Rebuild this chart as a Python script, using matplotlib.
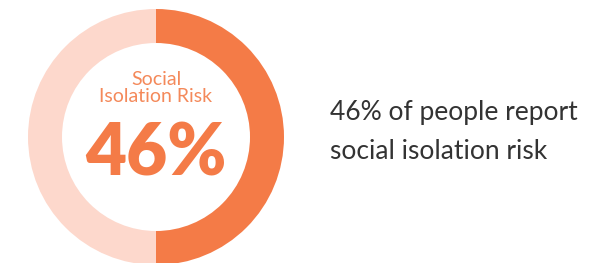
import matplotlib.pyplot as plt

# ring shares as drawn in the picture (the arc covers half the ring)
ring_labels = ['At risk', 'Not at risk']
ring_values = [50, 50]
ring_colors = ['#F47B47', '#FDD8CC']

title_text = 'Social\nIsolation Risk'
value_text = '46%'
caption_text = '46% of people report\nsocial isolation risk'

W, H = 593, 263
fig = plt.figure(figsize=(W / 100, H / 100), dpi=100)
ax = fig.add_axes([0, 0, 1, 1])

cx, cy = 156, H - 137
ax.pie(ring_values, colors=ring_colors, startangle=90, counterclock=False,
       radius=128, center=(cx, cy), frame=True,
       wedgeprops=dict(width=34, linewidth=0))
ax.set_xlim(0, W)
ax.set_ylim(0, H)
ax.set_aspect('equal')
ax.axis('off')

ax.text(cx, H - 88, title_text, ha='center', va='center', fontsize=14,
        color='#F4895A', family='Lato', linespacing=1.05)
ax.text(cx, H - 155, value_text, ha='center', va='center', fontsize=51,
        color='#F47B47', family='Lato', fontweight='heavy')
ax.text(330, H - 132, caption_text, ha='left', va='center', fontsize=19,
        color='#333333', family='Lato', linespacing=1.7)

fig.savefig('out.png', dpi=100)
